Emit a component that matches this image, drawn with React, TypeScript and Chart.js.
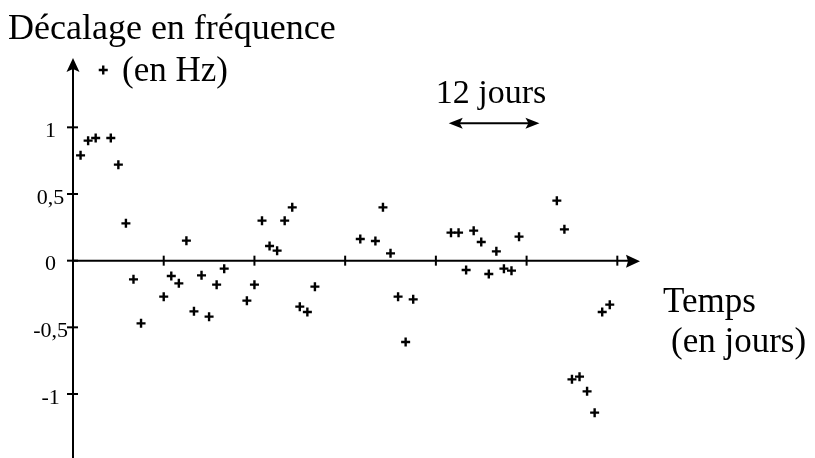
import { useEffect, useRef } from "react";
import { Chart, registerables } from "chart.js";

Chart.register(...registerables);

// Data
const days = [
  1, 2, 3, 4, 5, 6, 7, 8, 9,
  12, 13, 14, 15, 16, 17, 18, 19, 20,
  23, 24, 25, 26, 27, 28, 29, 30, 31, 32,
  38, 40, 41, 42, 43, 44, 45,
  50, 51, 52, 53, 54, 55, 56, 57, 58, 59,
  64, 65, 66, 67, 68, 69, 70, 71,
];
const offsetsHz = [
  0.79, 0.9, 0.92, 1.43, 0.92, 0.72, 0.28, -0.14, -0.47,
  -0.27, -0.115, -0.17, 0.15, -0.38, -0.11, -0.42, -0.18, -0.06,
  -0.3, -0.18, 0.3, 0.11, 0.075, 0.3, 0.4, -0.345, -0.385, -0.195,
  0.163, 0.148, 0.4, 0.055, -0.27, -0.61, -0.29,
  0.21, 0.21, -0.07, 0.225, 0.14, -0.1, 0.07, -0.06, -0.075, 0.18,
  0.45, 0.235, -0.89, -0.87, -0.98, -1.14, -0.385, -0.33,
];
const yTickValues = [-1, -0.5, 0, 0.5, 1];
const yTickLabels = ["-1", "-0,5", "0", "0,5", "1"];
const xTickDays = [12, 24, 36, 48, 60, 72];
const spanStartDay = [49.7];
const spanLengthDays = [12];
const spanLevelHz = [1.03];

const yTitle = "Décalage en fréquence";
const yUnit = "(en Hz)";
const xTitle = "Temps";
const xUnit = "(en jours)";
const spanLabel = "12 jours";

const SERIF = '"Liberation Serif", "Times New Roman", serif';

export default function App() {
  const ref = useRef<HTMLCanvasElement>(null);

  useEffect(() => {
    const canvas = ref.current;
    if (!canvas) return;

    const arrowAxes = {
      id: "arrowAxes",
      beforeDatasetsDraw(chart: any) {
        const { ctx, chartArea, scales } = chart;
        const x = scales.x;
        const y = scales.y;
        const x0 = x.getPixelForValue(0);
        const y0 = y.getPixelForValue(0);
        ctx.save();
        ctx.strokeStyle = "#000";
        ctx.fillStyle = "#000";
        ctx.lineWidth = 2;
        ctx.lineCap = "butt";

        // vertical axis with arrow
        ctx.beginPath();
        ctx.moveTo(x0, chartArea.bottom);
        ctx.lineTo(x0, chartArea.top + 10);
        ctx.stroke();
        ctx.beginPath();
        ctx.moveTo(x0, chartArea.top);
        ctx.lineTo(x0 - 6.5, chartArea.top + 14);
        ctx.lineTo(x0, chartArea.top + 11);
        ctx.lineTo(x0 + 6.5, chartArea.top + 14);
        ctx.closePath();
        ctx.fill();

        // horizontal axis with arrow
        ctx.beginPath();
        ctx.moveTo(x0, y0);
        ctx.lineTo(chartArea.right - 10, y0);
        ctx.stroke();
        ctx.beginPath();
        ctx.moveTo(chartArea.right, y0 + 0.5);
        ctx.lineTo(chartArea.right - 14, y0 - 6);
        ctx.lineTo(chartArea.right - 12, y0 + 0.5);
        ctx.lineTo(chartArea.right - 14, y0 + 7);
        ctx.closePath();
        ctx.fill();

        // tick marks crossing the axes
        for (const d of xTickDays) {
          const px = x.getPixelForValue(d);
          ctx.beginPath();
          ctx.moveTo(px, y0 - 5);
          ctx.lineTo(px, y0 + 5);
          ctx.stroke();
        }
        for (const v of yTickValues) {
          const py = y.getPixelForValue(v);
          ctx.beginPath();
          ctx.moveTo(x0 - 6, py);
          ctx.lineTo(x0 + 5, py);
          ctx.stroke();
        }

        // 12-day double arrow
        const xs = x.getPixelForValue(spanStartDay[0]);
        const xe = x.getPixelForValue(spanStartDay[0] + spanLengthDays[0]);
        const py = y.getPixelForValue(spanLevelHz[0]);
        ctx.beginPath();
        ctx.moveTo(xs + 8, py);
        ctx.lineTo(xe - 8, py);
        ctx.stroke();
        ctx.beginPath();
        ctx.moveTo(xs, py);
        ctx.lineTo(xs + 14, py - 5.5);
        ctx.lineTo(xs + 11, py);
        ctx.lineTo(xs + 14, py + 5.5);
        ctx.closePath();
        ctx.fill();
        ctx.beginPath();
        ctx.moveTo(xe, py);
        ctx.lineTo(xe - 14, py - 5.5);
        ctx.lineTo(xe - 11, py);
        ctx.lineTo(xe - 14, py + 5.5);
        ctx.closePath();
        ctx.fill();

        // texts
        ctx.textBaseline = "alphabetic";
        ctx.textAlign = "left";
        ctx.font = `36px ${SERIF}`;
        ctx.fillText(yTitle, 8, 39);
        ctx.font = `35px ${SERIF}`;
        ctx.fillText(yUnit, x0 + 49, chartArea.top + 23);
        ctx.fillText(xTitle, chartArea.right + 23, y0 + 51);
        ctx.fillText(xUnit, chartArea.right + 31, y0 + 91);
        ctx.font = `34px ${SERIF}`;
        ctx.textAlign = "center";
        ctx.fillText(spanLabel, (xs + xe) / 2 - 3, py - 20);
        ctx.restore();
      },
    };

    const chart = new Chart(canvas, {
      type: "scatter",
      data: {
        datasets: [
          {
            data: days.map((d, i) => ({ x: d, y: offsetsHz[i] })),
            pointStyle: "cross",
            pointRadius: 4.5,
            pointHoverRadius: 4.5,
            borderColor: "#000",
            backgroundColor: "#000",
            borderWidth: 2.4,
          },
        ],
      },
      options: {
        responsive: false,
        animation: false,
        layout: { autoPadding: false, padding: { left: 0, right: 175, top: 58, bottom: 0 } },
        plugins: {
          legend: { display: false },
          tooltip: { enabled: false },
          title: { display: false },
        },
        scales: {
          x: { type: "linear", min: 0, max: 75, display: false },
          y: {
            type: "linear",
            min: -1.48,
            max: 1.52,
            grid: { display: false, drawTicks: false },
            border: { display: false },
            afterBuildTicks: (s: any) => {
              s.ticks = yTickValues.map((v) => ({ value: v }));
            },
            afterFit: (s: any) => {
              s.width = 73;
              s.paddingTop = 0;
              s.paddingBottom = 0;
            },
            ticks: {
              autoSkip: false,
              color: "#000",
              font: { family: SERIF, size: 22 },
              crossAlign: "center",
              padding: 5,
              labelOffset: 4,
              callback: (v: any) => {
                const i = yTickValues.indexOf(Number(v));
                return i >= 0 ? yTickLabels[i] : "";
              },
            },
          },
        },
      },
      plugins: [arrowAxes],
    });

    return () => chart.destroy();
  }, []);

  return (
    <div style={{ position: "absolute", left: 0, top: 0, width: 815, height: 458, background: "#fff" }}>
      <canvas ref={ref} width={815} height={458} style={{ display: "block" }} />
    </div>
  );
}
